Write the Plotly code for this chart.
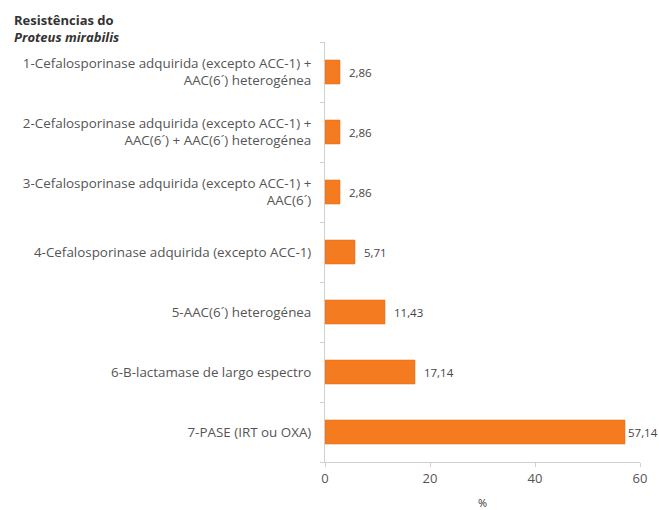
import plotly.graph_objects as go

categories = [
    "1-Cefalosporinase adquirida (excepto ACC-1) +<br>AAC(6´) heterogénea",
    "2-Cefalosporinase adquirida (excepto ACC-1) +<br>AAC(6´) + AAC(6´) heterogénea",
    "3-Cefalosporinase adquirida (excepto ACC-1) +<br>AAC(6´)",
    "4-Cefalosporinase adquirida (excepto ACC-1)",
    "5-AAC(6´) heterogénea",
    "6-B-lactamase de largo espectro",
    "7-PASE (IRT ou OXA)",
]
values = [2.86, 2.86, 2.86, 5.71, 11.43, 17.14, 57.14]
value_labels = ["2,86", "2,86", "2,86", "5,71", "11,43", "17,14", "57,14"]
x_ticks = [0, 20, 40, 60]

FONT = "'Open Sans', sans-serif"
GREY = "#555555"

# the longest bar's label sits flush against its bar end
bar_text = ["  " + t if v < 50 else t for t, v in zip(value_labels, values)]

fig = go.Figure(
    go.Bar(
        x=values,
        y=categories,
        orientation="h",
        width=0.4,
        marker=dict(color="#F47B20", line=dict(color="#E06A12", width=0.5)),
        text=bar_text,
        textposition="outside",
        textfont=dict(family=FONT, size=11.5, color="#444444"),
        cliponaxis=False,
    )
)

fig.update_layout(
    width=659,
    height=510,
    margin=dict(l=325, r=17, t=42, b=48),
    paper_bgcolor="white",
    plot_bgcolor="white",
    showlegend=False,
    font=dict(family=FONT, size=12, color=GREY),
    annotations=[
        dict(
            text="<b>Resistências do</b><br><b><i>Proteus mirabilis</i></b>",
            xref="paper", yref="paper",
            x=-0.994, y=1.0,
            yshift=-6,
            xanchor="left", yanchor="bottom",
            align="left",
            showarrow=False,
            font=dict(family=FONT, size=13, color="#333333"),
        ),
        dict(
            text="%",
            xref="paper", yref="paper",
            x=0.5, y=0,
            yshift=-31,
            xanchor="center", yanchor="top",
            showarrow=False,
            font=dict(family=FONT, size=11, color="#333333"),
        ),
    ],
)

fig.update_xaxes(
    range=[0, 60],
    tickvals=x_ticks,
    ticktext=[str(v) for v in x_ticks],
    showgrid=False,
    zeroline=False,
    showline=True,
    linecolor="#D0D0D0",
    linewidth=1,
    ticks="outside",
    ticklen=4,
    tickcolor="#D0D0D0",
    tickfont=dict(family=FONT, size=13, color=GREY),
)

fig.update_yaxes(
    categoryorder="array",
    categoryarray=categories[::-1],
    showgrid=False,
    showline=True,
    linecolor="#D0D0D0",
    linewidth=1,
    ticks="outside",
    tickson="boundaries",
    ticklen=4,
    tickcolor="#D0D0D0",
    ticklabelstandoff=10,
    tickfont=dict(family=FONT, size=13.4, color=GREY),
)

fig.write_html("out.html")
